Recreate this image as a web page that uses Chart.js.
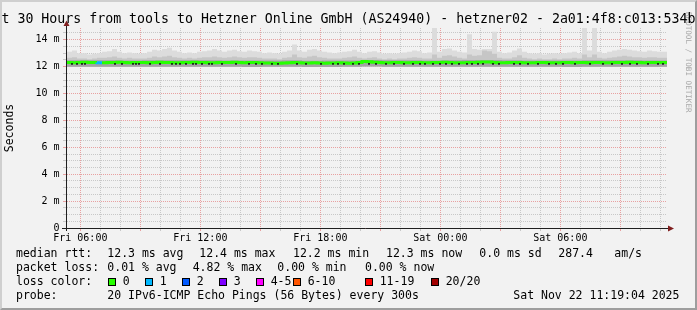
<!DOCTYPE html>
<html><head><meta charset="utf-8">
<script src="https://cdn.jsdelivr.net/npm/chart.js@4/dist/chart.umd.min.js"></script>
<style>
html,body{margin:0;padding:0;background:#f2f2f2;}
#wrap{position:relative;width:697px;height:310px;overflow:hidden;background:#f2f2f2;font-family:'DejaVu Sans Mono',monospace;color:#000;}
#c{position:absolute;left:0;top:0;}
.t{position:absolute;white-space:pre;line-height:1;font-size:11.5px;}
#title{position:absolute;left:-300px;width:1297px;text-align:center;top:12.3px;font-size:13.25px;line-height:1;white-space:pre;}
#wm{position:absolute;left:684px;top:12px;writing-mode:vertical-rl;font-size:7.6px;line-height:1;color:#a8a8a8;white-space:pre;}
.sq{position:absolute;width:6px;height:6px;border:1px solid #000;top:278px;}
#frame{position:absolute;left:0;top:0;width:697px;height:310px;box-sizing:border-box;border-top:2px solid #cfcfcf;border-left:2px solid #cfcfcf;border-right:2px solid #9e9e9e;border-bottom:2px solid #9e9e9e;pointer-events:none;}
</style></head>
<body>
<div id="wrap">
<canvas id="c" width="697" height="310"></canvas>
<div id="wm">RRDTOOL / TOBI OETIKER</div>
<div id="title">Last 30 Hours from tools to Hetzner Online GmbH (AS24940) - hetzner02 - 2a01:4f8:c013:534b::1</div>
<div id="legend"></div>
<div id="frame"></div>
</div>
<script>
// ---- data (ms) ----
const startHour = 5 + 20 / 60;   // Fri 05:20
const spanHours = 30;
const slotMinutes = 15;
const yMax = 14.87;

// upper edge of the smoke (slowest pings), one value per 15 min
const smokeMax = [
 13.20,13.10,13.20,13.00,13.00,12.90,12.95,13.00,13.10,13.15,
 13.30,13.10,13.00,13.05,13.00,12.95,13.00,13.10,13.25,13.20,
 13.30,13.40,13.20,13.10,13.00,13.05,13.00,13.10,13.15,13.20,
 13.30,13.20,13.10,13.20,13.25,13.15,13.10,13.20,13.15,13.10,
 13.00,13.05,13.00,12.95,13.10,13.20,13.65,13.20,13.10,13.25,
 13.30,13.20,13.10,13.05,13.00,13.05,13.10,13.15,13.25,13.10,
 13.00,13.10,13.15,13.05,12.95,13.00,12.95,13.00,13.05,13.10,
 13.20,13.15,13.00,13.05,15.00,13.10,13.30,13.35,13.20,13.10,
 13.05,14.40,13.30,13.25,13.30,13.30,14.60,13.10,13.00,13.05,
 13.20,13.35,13.10,13.00,12.95,13.00,12.90,12.95,13.00,12.95,
 13.00,13.05,13.10,13.00,15.00,13.20,15.00,13.10,13.00,13.10,
 13.20,13.25,13.30,13.25,13.20,13.15,13.10,13.20,13.15,13.10];

// top of the denser middle part of the smoke
const smokeMid = [
 12.70,12.65,12.70,12.60,12.60,12.55,12.60,12.65,12.65,12.70,
 12.75,12.65,12.60,12.65,12.60,12.60,12.60,12.65,12.75,12.70,
 12.75,12.80,12.70,12.65,12.60,12.65,12.60,12.65,12.70,12.70,
 12.75,12.70,12.65,12.70,12.75,12.70,12.65,12.70,12.70,12.65,
 12.60,12.60,12.60,12.55,12.65,12.70,12.90,12.70,12.65,12.75,
 12.80,12.70,12.65,12.60,12.60,12.60,12.65,12.70,12.75,12.65,
 12.60,12.65,12.70,12.60,12.55,12.60,12.55,12.60,12.60,12.65,
 12.70,12.65,12.60,12.60,12.90,12.65,12.80,12.85,12.75,12.65,
 12.60,12.90,12.80,12.85,13.20,13.15,12.95,12.65,12.60,12.60,
 12.70,12.85,12.65,12.60,12.55,12.60,12.55,12.55,12.60,12.55,
 12.60,12.60,12.65,12.60,12.90,12.70,12.90,12.65,12.60,12.65,
 12.70,12.75,12.80,12.75,12.70,12.70,12.65,12.70,12.70,12.65];

// hourly: top of darkest core, and lower edge of the smoke (fastest pings)
const smokeCoreHourly = [12.48,12.47,12.48,12.46,12.47,12.48,12.48,12.47,12.46,12.45,
 12.46,12.47,12.44,12.45,12.46,12.50,12.48,12.47,12.46,12.47,
 12.50,12.49,12.48,12.46,12.46,12.45,12.47,12.48,12.47,12.46];
const smokeMinHourly = [11.98,11.99,11.98,11.99,11.98,11.98,11.99,11.98,11.98,11.97,
 11.98,11.98,11.97,11.97,11.98,12.00,11.99,11.98,11.98,11.98,
 11.99,11.99,11.98,11.98,11.98,11.97,11.98,11.99,11.98,11.98];

// median rtt, one value per 15 min
const medianRtt = [
 12.30,12.30,12.28,12.30,12.32,12.30,12.30,12.28,12.28,12.30,
 12.30,12.32,12.30,12.28,12.30,12.30,12.30,12.28,12.30,12.32,
 12.30,12.30,12.28,12.28,12.30,12.30,12.32,12.30,12.30,12.28,
 12.28,12.30,12.30,12.30,12.32,12.30,12.28,12.30,12.30,12.28,
 12.26,12.26,12.25,12.25,12.26,12.28,12.30,12.28,12.26,12.26,
 12.28,12.26,12.25,12.26,12.26,12.28,12.26,12.25,12.26,12.30,
 12.38,12.36,12.32,12.30,12.28,12.28,12.30,12.30,12.28,12.28,
 12.30,12.30,12.28,12.28,12.30,12.30,12.32,12.30,12.28,12.28,
 12.28,12.30,12.30,12.32,12.34,12.34,12.30,12.28,12.28,12.30,
 12.30,12.30,12.28,12.28,12.28,12.30,12.30,12.28,12.28,12.28,
 12.30,12.30,12.28,12.30,12.30,12.28,12.30,12.30,12.28,12.28,
 12.30,12.30,12.30,12.32,12.30,12.30,12.28,12.30,12.30,12.30];

// packet loss events: slot index and lost pings (of 20)
const lossSlot = [6];
const lossCount = [1];

// dark marks along the median (minutes since start) and their level
const darkDotMinutes = [15,30,45,54,144,165,198,207,216,249,279,315,327,339,357,378,387,405,426,435,
 465,507,546,567,585,615,633,690,717,762,798,813,831,858,876,906,927,957,981,1011,1038,1059,1074,
 1098,1119,1137,1155,1176,1200,1215,1233,1248,1278,1296,1341,1359,1383,1413,1446,1467,1488,1524,
 1569,1608,1635,1665,1689,1710,1743,1773,1788];
const darkDotLevel = 12.2;

// axis labels
const xTickHours = [6, 12, 18, 24, 30];
const xTickLabels = ['Fri 06:00', 'Fri 12:00', 'Fri 18:00', 'Sat 00:00', 'Sat 06:00'];
const yTickValues = [0, 2, 4, 6, 8, 10, 12, 14];
const yTickLabels = ['0', '2 m', '4 m', '6 m', '8 m', '10 m', '12 m', '14 m'];

// legend
const lossLabels = ['0', '1', '2', '3', '4-5', '6-10', '11-19', '20/20'];
const lossColors = ['#26ff00', '#00b8ff', '#0059ff', '#7e00ff', '#ff00ff', '#ff5500', '#ff0000', '#a10000'];
const lossUpper = [0, 1, 2, 3, 5, 10, 19, 20];
const legendStats = [
  ['median rtt:', '12.3 ms avg', '12.4 ms max', '12.2 ms min', '12.3 ms now', '0.0 ms sd', '287.4', 'am/s'],
  ['packet loss:', '0.01 % avg', '4.82 % max', '0.00 % min', '0.00 % now']
];
const probeText = ['probe:', '20 IPv6-ICMP Echo Pings (56 Bytes) every 300s', 'Sat Nov 22 11:19:04 2025'];

// ---- build legend (text) ----
const L = document.getElementById('legend');
function txt(s, x, top) { const d = document.createElement('div'); d.className = 't'; d.textContent = s; d.style.left = x + 'px'; d.style.top = top + 'px'; L.appendChild(d); }
const row1X = [16, 107.3, 199.3, 293, 386, 479.3, 558.3, 614.3];
const row2X = [16, 107.3, 192.7, 277.3, 365];
legendStats[0].forEach((s, i) => txt(s, row1X[i], 247.7));
legendStats[1].forEach((s, i) => txt(s, row2X[i], 261.8));
txt('loss color:', 16, 275.6);
const sqX = [108, 145, 182, 219, 256, 293, 365, 431];
lossLabels.forEach((s, i) => {
  const q = document.createElement('div'); q.className = 'sq'; q.style.left = sqX[i] + 'px'; q.style.background = lossColors[i]; L.appendChild(q);
  txt(s, sqX[i] + 14.7, 275.6);
});
const row4X = [16, 107.3, 513.3];
probeText.forEach((s, i) => txt(s, row4X[i], 289.6));

// ---- chart data ----
const nSlots = smokeMax.length;
const endHour = startHour + spanHours;
const slotX = i => startHour + i * slotMinutes / 60;
function stepSeries(vals) {
  const pts = vals.map((v, i) => ({ x: slotX(i), y: v }));
  pts.push({ x: endHour, y: vals[vals.length - 1] });
  return pts;
}
const perSlot = h => smokeMax.map((_, i) => h[Math.floor(i * slotMinutes / 60)]);
const lossBySlot = new Array(nSlots).fill(0);
lossSlot.forEach((s, k) => { lossBySlot[s] = lossCount[k]; });
const lossColor = n => lossColors[lossUpper.findIndex(u => n <= u)];

const band = (vals, color, order) => ({
  data: stepSeries(vals), stepped: 'after', fill: 5, backgroundColor: color,
  borderColor: 'rgba(0,0,0,0)', borderWidth: 0, pointRadius: 0, order
});

const GRID = 'rgba(143,143,143,0.42)';
const MGRID = 'rgba(222,79,79,0.5)';
const xGridHours = [];
for (let h = Math.ceil(startHour); h <= endHour; h++) xGridHours.push(h);
const yGrid = [];
for (let v = 0; v < yMax; v += 0.5) yGrid.push(v);

const axesPlugin = {
  id: 'axes',
  afterDatasetsDraw(chart) {
    const c = chart.ctx, a = chart.chartArea;
    c.save();
    c.strokeStyle = '#1f1f1f'; c.lineWidth = 1;
    c.beginPath(); c.moveTo(a.left - 5, a.bottom + 0.5); c.lineTo(a.right + 2, a.bottom + 0.5); c.stroke();
    c.beginPath(); c.moveTo(a.left - 0.5, a.bottom + 3); c.lineTo(a.left - 0.5, a.top - 2); c.stroke();
    c.fillStyle = '#801f1f';
    c.beginPath(); c.moveTo(a.right + 1, a.bottom - 2.5); c.lineTo(a.right + 7, a.bottom + 0.5); c.lineTo(a.right + 1, a.bottom + 3.5); c.closePath(); c.fill();
    c.beginPath(); c.moveTo(a.left - 3.5, a.top - 2); c.lineTo(a.left - 0.5, a.top - 7.5); c.lineTo(a.left + 2.5, a.top - 2); c.closePath(); c.fill();
    c.restore();
  }
};

new Chart(document.getElementById('c'), {
  type: 'line',
  data: {
    datasets: [
      { data: stepSeries(medianRtt), stepped: 'after', borderWidth: 3, borderColor: lossColors[0], pointRadius: 0, fill: false, order: 0,
        segment: { borderColor: ctx => lossColor(lossBySlot[ctx.p0DataIndex] || 0) } },
      { data: darkDotMinutes.map(m => ({ x: startHour + m / 60, y: darkDotLevel })), showLine: false, pointStyle: 'rect',
        pointRadius: 1.2, pointBackgroundColor: '#111', pointBorderWidth: 0, order: -1 },
      band(perSlot(smokeCoreHourly), '#a4a4a4', 1),
      band(smokeMid, '#c6c6c6', 2),
      band(smokeMax, '#dcdcdc', 3),
      { data: stepSeries(perSlot(smokeMinHourly)), stepped: 'after', borderWidth: 0, borderColor: 'rgba(0,0,0,0)', pointRadius: 0, fill: false, order: 4 }
    ]
  },
  options: {
    responsive: false, animation: false, events: [],
    layout: { padding: { top: 28, right: 30, left: 0, bottom: 0 } },
    plugins: { legend: { display: false }, tooltip: { enabled: false }, title: { display: false } },
    scales: {
      x: {
        type: 'linear', min: startHour, max: endHour,
        afterBuildTicks: s => { s.ticks = xGridHours.map(v => ({ value: v })); },
        afterFit: s => { s.height = 82; },
        grid: { color: c => (c.tick.value % 3 === 0 ? MGRID : GRID), lineWidth: 1, drawTicks: true, tickLength: 3,
                tickColor: c => (c.tick.value % 3 === 0 ? MGRID : GRID) },
        border: { display: false, dash: [1, 1] },
        ticks: { autoSkip: false, maxRotation: 0, padding: 1, color: '#000',
                 font: { family: 'DejaVu Sans Mono', size: 10 },
                 callback: v => { const k = xTickHours.indexOf(v); return k >= 0 ? xTickLabels[k] : ''; } }
      },
      y: {
        min: 0, max: yMax,
        afterBuildTicks: s => { s.ticks = yGrid.map(v => ({ value: v })); },
        afterFit: s => { s.width = 67; },
        grid: { color: c => (c.tick.value % 2 === 0 ? MGRID : GRID), lineWidth: 1, drawTicks: true, tickLength: 4,
                tickColor: c => (c.tick.value % 2 === 0 ? MGRID : GRID) },
        border: { display: false, dash: [1, 1] },
        ticks: { autoSkip: false, padding: 3.5, color: '#000', font: { family: 'DejaVu Sans Mono', size: 10 },
                 callback: v => { const k = yTickValues.indexOf(v); return k >= 0 ? yTickLabels[k] : ''; } },
        title: { display: true, text: 'Seconds', color: '#000', font: { family: 'DejaVu Sans Mono', size: 11.5 }, padding: { top: 3, bottom: 0 } }
      }
    }
  },
  plugins: [axesPlugin]
});
</script>
</body></html>
